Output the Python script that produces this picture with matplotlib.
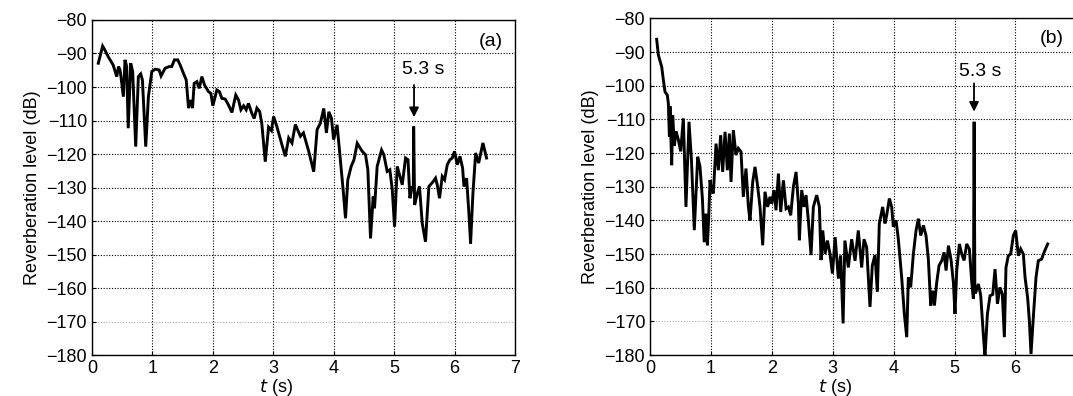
import matplotlib
matplotlib.use("Agg")
import matplotlib.pyplot as plt

plt.rcParams['font.family'] = ['Liberation Sans', 'DejaVu Sans']
plt.rcParams['font.size'] = 13

# panel (a)
t_a = [0.105, 0.177, 0.215, 0.27, 0.35, 0.41, 0.44, 0.464, 0.48, 0.52,
       0.547, 0.575, 0.60, 0.641, 0.674, 0.724, 0.768, 0.807, 0.835, 0.89,
       0.934, 0.99, 1.045, 1.111, 1.144, 1.21, 1.28, 1.32, 1.365, 1.42,
       1.459, 1.514, 1.56, 1.598, 1.636, 1.664, 1.692, 1.736, 1.775, 1.819,
       1.863, 1.929, 1.968, 2.001, 2.067, 2.11, 2.15, 2.206, 2.26, 2.316,
       2.38, 2.426, 2.465, 2.51, 2.553, 2.59, 2.647, 2.685, 2.73, 2.775,
       2.81, 2.868, 2.923, 2.97, 3.007, 3.06, 3.145, 3.2, 3.256, 3.31,
       3.366, 3.45, 3.5, 3.587, 3.67, 3.726, 3.78, 3.836, 3.88, 3.92,
       3.963, 4.0, 4.057, 4.1, 4.157, 4.196, 4.234, 4.29, 4.335, 4.39,
       4.472, 4.527, 4.566, 4.61, 4.654, 4.676, 4.72, 4.793, 4.83, 4.886,
       4.93, 4.97, 5.008, 5.052, 5.09, 5.135, 5.19, 5.23, 5.262, 5.3,
       5.318, 5.324, 5.34, 5.385, 5.42, 5.466, 5.52, 5.576, 5.647, 5.686,
       5.714, 5.752, 5.797, 5.836, 5.88, 5.924, 5.963, 6.0, 6.046, 6.09,
       6.134, 6.156, 6.2, 6.24, 6.266, 6.305, 6.35, 6.4, 6.47, 6.53]
lvl_a = [-92.9, -87.8, -89.0, -91.0, -93.4, -96.9, -93.9, -94.9, -96.9, -102.9,
         -91.9, -93.9, -112.3, -92.9, -95.4, -117.8, -96.9, -96.1, -97.9, -117.8,
         -102.9, -95.4, -94.7, -94.9, -96.7, -94.4, -93.9, -93.9, -91.9, -91.9,
         -93.4, -95.9, -97.9, -106.3, -103.9, -106.3, -98.9, -98.4, -100.4, -96.9,
         -99.4, -101.4, -101.9, -105.6, -100.9, -101.4, -103.4, -103.6, -105.4, -107.6,
         -102.4, -103.9, -106.8, -105.6, -106.8, -104.9, -107.9, -109.4, -106.3, -107.3,
         -110.8, -122.3, -112.0, -113.0, -108.8, -111.8, -117.3, -120.7, -115.2, -116.7,
         -111.2, -114.7, -113.7, -119.2, -125.3, -112.7, -110.8, -106.4, -113.7, -107.4,
         -109.3, -115.7, -111.3, -119.7, -130.7, -139.2, -127.7, -123.7, -121.8, -116.8,
         -119.2, -120.2, -124.7, -145.2, -132.7, -136.2, -123.7, -118.8, -120.2, -125.2,
         -124.7, -130.7, -141.7, -123.7, -126.2, -129.2, -121.2, -121.7, -133.2, -129.7,
         -131.0, -111.8, -135.2, -131.7, -129.7, -140.7, -146.2, -129.7, -128.2, -127.2,
         -129.2, -133.2, -126.7, -127.7, -123.2, -121.7, -121.2, -119.2, -123.2, -120.7,
         -124.2, -129.7, -127.2, -138.2, -146.7, -131.7, -119.7, -122.7, -116.7, -121.2]

# panel (b)
t_b = [0.109, 0.137, 0.192, 0.219, 0.246, 0.284, 0.301, 0.318, 0.328, 0.356,
       0.372, 0.40, 0.427, 0.465, 0.503, 0.547, 0.59, 0.64, 0.68, 0.727,
       0.783, 0.82, 0.86, 0.89, 0.92, 0.942, 0.964, 0.985, 1.012, 1.04,
       1.084, 1.122, 1.16, 1.193, 1.232, 1.27, 1.303, 1.33, 1.368, 1.412,
       1.45, 1.494, 1.532, 1.576, 1.615, 1.642, 1.686, 1.724, 1.762, 1.806,
       1.85, 1.888, 1.932, 1.97, 1.998, 2.036, 2.069, 2.108, 2.146, 2.19,
       2.234, 2.272, 2.31, 2.354, 2.398, 2.436, 2.452, 2.491, 2.529, 2.562,
       2.6, 2.644, 2.682, 2.737, 2.781, 2.808, 2.836, 2.874, 2.913, 2.956,
       2.995, 3.04, 3.093, 3.13, 3.17, 3.2, 3.256, 3.311, 3.366, 3.42,
       3.475, 3.514, 3.557, 3.612, 3.65, 3.694, 3.733, 3.765, 3.82, 3.858,
       3.886, 3.93, 3.968, 3.995, 4.04, 4.077, 4.132, 4.176, 4.215, 4.242,
       4.28, 4.324, 4.368, 4.406, 4.445, 4.489, 4.532, 4.57, 4.609, 4.642,
       4.67, 4.708, 4.746, 4.79, 4.828, 4.861, 4.9, 4.944, 4.981, 5.008,
       5.036, 5.08, 5.118, 5.157, 5.2, 5.244, 5.283, 5.31, 5.322, 5.334,
       5.348, 5.392, 5.43, 5.474, 5.5, 5.54, 5.583, 5.627, 5.665, 5.705,
       5.746, 5.785, 5.818, 5.845, 5.883, 5.922, 5.966, 6.004, 6.048, 6.087,
       6.13, 6.158, 6.2, 6.229, 6.256, 6.294, 6.338, 6.376, 6.43, 6.47, 6.53]
lvl_b = [-86.2, -90.9, -94.4, -98.3, -101.8, -102.8, -105.3, -115.2, -106.1, -123.6,
         -108.7, -117.9, -113.5, -116.0, -119.5, -109.7, -136.0, -110.7, -122.0, -142.9,
         -121.1, -124.0, -133.5, -146.5, -138.0, -147.4, -139.0, -128.0, -131.0, -132.0,
         -117.2, -125.1, -114.7, -125.6, -113.7, -125.1, -114.2, -128.6, -113.2, -120.6,
         -118.6, -119.6, -133.0, -124.6, -136.0, -140.0, -128.6, -124.1, -129.1, -136.0,
         -147.4, -131.5, -136.0, -133.0, -135.0, -131.0, -137.0, -126.1, -137.5, -128.1,
         -136.5, -136.0, -138.5, -130.0, -125.6, -135.0, -145.9, -131.0, -136.0, -132.5,
         -140.0, -150.3, -136.0, -132.5, -136.0, -151.8, -143.0, -150.0, -146.0, -150.0,
         -155.8, -145.0, -157.3, -150.4, -170.6, -146.0, -154.0, -145.6, -152.0, -143.0,
         -154.0, -145.6, -148.0, -165.7, -153.4, -150.3, -161.2, -140.9, -136.0, -140.9,
         -138.5, -133.5, -136.0, -141.9, -140.0, -145.5, -156.9, -167.8, -174.7, -156.9,
         -159.9, -150.0, -143.0, -139.5, -144.5, -141.5, -144.5, -151.5, -165.3, -160.9,
         -165.3, -158.4, -153.4, -152.0, -149.5, -154.9, -147.5, -151.9, -158.4, -167.8,
         -154.9, -147.0, -150.0, -151.9, -147.0, -148.5, -158.4, -163.3, -110.7, -161.4,
         -161.4, -158.9, -162.3, -174.2, -180.5, -167.8, -162.4, -162.0, -154.5, -164.8,
         -159.9, -161.9, -174.7, -154.0, -150.5, -150.0, -144.5, -143.0, -150.5, -148.5,
         -150.0, -156.9, -162.9, -169.8, -179.7, -168.8, -156.9, -152.0, -151.5, -149.5, -147.0]

y_ticks = list(range(-180, -79, 10))
x_ticks_a = list(range(0, 8))
x_ticks_b = list(range(0, 7))   # 7 falls past the right edge of the picture

fig = plt.figure(figsize=(10.73, 3.96), dpi=100)
ax_a = fig.add_axes([0.0857, 0.1035, 0.3942, 0.846])
ax_b = fig.add_axes([0.6058, 0.1035, 0.3973, 0.850])

panels = [
    (ax_a, t_a, lvl_a, x_ticks_a, '(a)', (6.6, -86.5), (5.33, -99.4), (5.33, -109.0), (5.48, -94.9)),
    (ax_b, t_b, lvl_b, x_ticks_b, '(b)', (6.6, -86.0), (5.32, -99.3), (5.32, -107.7), (5.42, -95.9)),
]

for ax, t, lvl, xt, tag, tag_xy, arr_from, arr_to, txt_xy in panels:
    ax.plot(t, lvl, color='black', lw=2.1, solid_joinstyle='miter')
    ax.set_xlim(0, 7)
    ax.set_ylim(-180, -80)
    ax.set_xticks(xt)
    ax.set_yticks(y_ticks)
    ax.tick_params(direction='in', length=3, pad=3.5, top=False, right=False)
    ax.grid(True, color='black', linestyle=(0, (1, 1.5)), lw=0.8)
    # the -170 gridline is rendered faint in the original
    ax.get_ygridlines()[1].set_color('#b0b0b0')
    for s in ax.spines.values():
        s.set_linewidth(1.0)
    ax.set_ylabel('Reverberation level (dB)')
    ax.set_xlabel(r'$\it{t}$ (s)', labelpad=0)
    ax.xaxis.label.set_x(0.434)
    ax.text(tag_xy[0], tag_xy[1], tag, ha='center', va='center', fontsize=14)
    ax.text(txt_xy[0], txt_xy[1], '5.3 s', ha='center', va='center', fontsize=14)
    ax.annotate('', xy=arr_to, xytext=arr_from,
                arrowprops=dict(arrowstyle='-|>', color='black', lw=1.3,
                                mutation_scale=14, shrinkA=0, shrinkB=0))

fig.savefig('out.png', dpi=100)
